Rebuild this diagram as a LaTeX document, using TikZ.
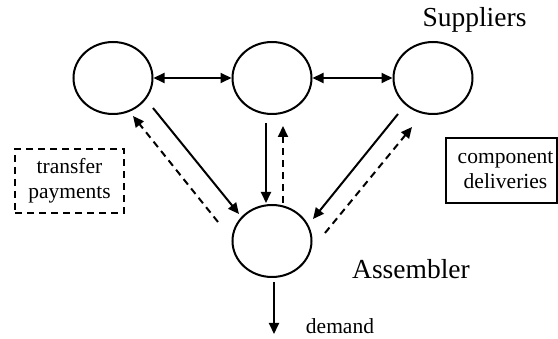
\documentclass[tikz,border=0pt]{standalone}
\usepackage{fontspec}
\setmainfont{Liberation Serif}
\usetikzlibrary{shapes.geometric,arrows.meta,calc}
\begin{document}
\begin{tikzpicture}[x=1pt,y=-1pt,
  agent/.style={draw,ellipse,line width=2pt,minimum width=79pt,minimum height=72pt,inner sep=0pt},
  flow/.style={line width=2pt,-{Triangle[length=11pt,width=10pt]}},
  both/.style={line width=2pt,{Triangle[length=11pt,width=10pt]}-{Triangle[length=11pt,width=10pt]}},
  pay/.style={flow,dash pattern=on 7pt off 5pt},
  big/.style={font=\fontsize{27.5}{30}\selectfont,inner sep=0pt},
  small/.style={font=\fontsize{21.5}{25}\selectfont,inner sep=0pt},
  legend/.style={small,align=center,line width=2pt,minimum width=109pt}
]
\useasboundingbox (0,0) rectangle (558,339);
\node[agent] (s1) at (113,78) {};
\node[agent] (s2) at (272,78) {};
\node[agent] (s3) at (433,78) {};
\node[agent] (a) at (272,241) {};
\node[big,anchor=base] (sup) at (474.5,27) {Suppliers};
\node[big,anchor=base] (asm) at (411,279) {Assembler};
\node[small,anchor=base] (dem) at (340,334) {demand};
\node[legend,draw,dash pattern=on 7pt off 5pt,minimum height=64pt] (tp) at (69.5,181) {transfer\\payments};
\node[legend,draw,minimum width=111pt,minimum height=65pt] (cd) at (501,170.5) {\hspace*{9pt}component\\\hspace*{9pt}deliveries};
\coordinate (dend) at (274,334);

\draw[both] (s1.east) -- (s2.west);
\draw[both] (s2.east) -- (s3.west);
\draw[flow] ($(s1.center)+(40,30)$) -- ($(a.center)+(-33,-27)$);
\draw[pay] ($(a.center)+(-54,-19)$) -- ($(s1.center)+(20,38)$);
\draw[flow] ($(s2.center)+(-6,45)$) -- ($(a.center)+(-6,-38)$);
\draw[pay] ($(a.center)+(11,-38)$) -- ($(s2.center)+(11,48)$);
\draw[flow] ($(s3.center)+(-35,36)$) -- ($(a.center)+(41,-22)$);
\draw[pay] ($(a.center)+(53,-8)$) -- ($(s3.center)+(-21,49)$);
\draw[flow] ($(a.south)+(2,4)$) -- (dend);
\end{tikzpicture}
\end{document}
